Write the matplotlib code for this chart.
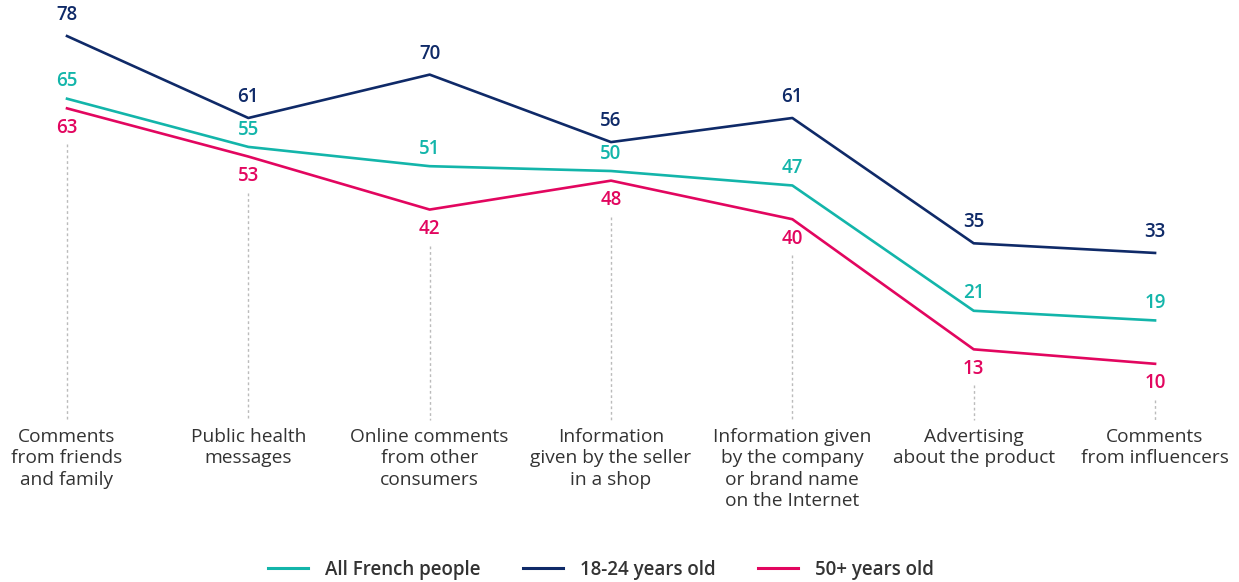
import numpy as np
import matplotlib.pyplot as plt

categories = [
    "Comments\nfrom friends\nand family",
    "Public health\nmessages",
    "Online comments\nfrom other\nconsumers",
    "Information\ngiven by the seller\nin a shop",
    "Information given\nby the company\nor brand name\non the Internet",
    "Advertising\nabout the product",
    "Comments\nfrom influencers",
]
all_french = [65, 55, 51, 50, 47, 21, 19]
young = [78, 61, 70, 56, 61, 35, 33]
older = [63, 53, 42, 48, 40, 13, 10]

TEAL = "#13b5aa"
NAVY = "#0f2a68"
MAGENTA = "#e2065f"
TEXT = "#333333"

plt.rcParams['font.family'] = ['Open Sans', 'DejaVu Sans']

fig = plt.figure(figsize=(12.39, 5.82), dpi=100)
ax = fig.add_axes([0, 0, 1, 1])
ax.set_xlim(-0.3695, 6.463)
ax.set_ylim(-35.27, 85.48)
ax.axis('off')

x = np.arange(len(categories))

# dotted guides from under the lowest label down to the category text
for xi, v in zip(x, older):
    ax.plot([xi, xi], [v - 7.5, -1.7], color="#bbbbbb", lw=1.0,
            ls=(0, (2, 2)), zorder=1)

ax.plot(x, all_french, color=TEAL, lw=1.9, zorder=3, label="All French people")
ax.plot(x, young, color=NAVY, lw=1.9, zorder=3, label="18-24 years old")
ax.plot(x, older, color=MAGENTA, lw=1.9, zorder=3, label="50+ years old")

num_style = dict(textcoords='offset points', ha='center', va='center',
                 fontsize=13.5, fontweight='semibold')
for xi, v in zip(x, young):
    ax.annotate(str(v), (xi, v), xytext=(0, 15), color=NAVY, **num_style)
for xi, v in zip(x, all_french):
    ax.annotate(str(v), (xi, v), xytext=(0, 12.5), color=TEAL, **num_style)
for xi, v in zip(x, older):
    ax.annotate(str(v), (xi, v), xytext=(0, -14), color=MAGENTA, **num_style)

for xi, lab in zip(x, categories):
    ax.text(xi, -3.3, lab, ha='center', va='top', color=TEXT, fontsize=13.8,
            linespacing=1.25)

leg = fig.legend(loc='center', bbox_to_anchor=(0.485, 0.021), ncol=3,
                 frameon=False, handlelength=2.1, handletextpad=0.9,
                 columnspacing=2.3,
                 prop={'family': ['Open Sans', 'DejaVu Sans'], 'weight': 'semibold', 'size': 13.5})
for t in leg.get_texts():
    t.set_color(TEXT)
for h in leg.get_lines():
    h.set_linewidth(2.2)

fig.savefig("out.png", dpi=100)
